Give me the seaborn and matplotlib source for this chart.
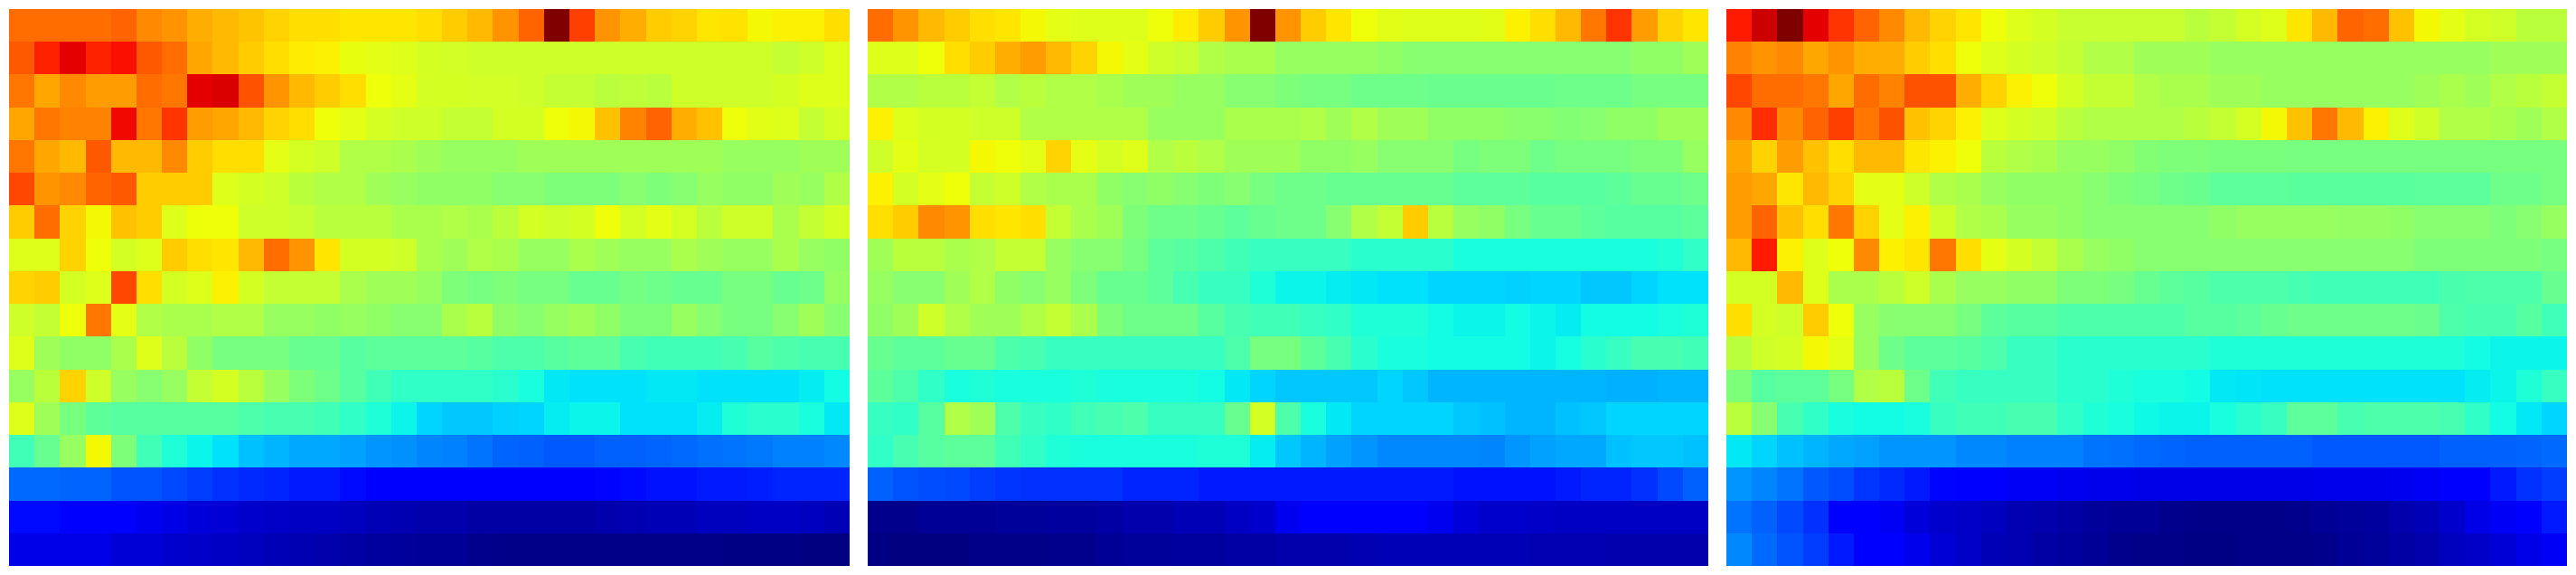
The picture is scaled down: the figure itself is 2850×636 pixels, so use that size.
import matplotlib
matplotlib.use("Agg")
import matplotlib.pyplot as plt
from matplotlib.colors import FuncNorm
import numpy as np
import seaborn as sns

panel_a = [
 [79,79,79,79,80,76,75,72,71,69.5,68,67,67,66,66,66,67,69,71,75,80,100,84,75,72,69,68,66,66.5,64,65,65,67],
 [81,87,91,87,89,81,79,73,71,69,67,65.5,65,62.5,62,61,60,59.5,59,59,59,59,59,59,59,59,59,59,59,59,58,59,61],
 [78,73,76,74,74,79,78,91,92,82,75,71,69,67,63,62,60,60,59.5,59.5,59,58,58,57,57.5,57,59,59,59,59,60,61,61],
 [73,78,77,77,90,78,85,74,73,71,68,67,63,62,60,59,59,58,58,60,60,63,64,70,77,80,72,70,63,61.5,61,58,60],
 [78,73,71,81,71,71,76,69,67,67,62,60,59,56,56,55,54,53,53,53,54,54,54,54,54,54,54,54,53,53,53,54,54],
 [83,75,76,80,81,69,69,69,61,60,59,57,56,56,54,53,52,52,52,51,51,50,50,50,51,50,51,53,52,52,54,53,56],
 [69,79,68,64,70,69,61,63,63,59,59,58.5,57,57,57,55,55,56,55,57,60,59,60,63,60,62,60,57,59,59,55,58,60],
 [61,61,68,63,60,61,69,67,66,71,79,75,66,60,60,59,55,54,56,55,53,53,55,54,53,53,55,54,53,53,55,53,52],
 [68,69,60,61,83,67,60,61,65,60,58,58,58,55,54,54,53,50,49,50,49,49,47,47,48.5,48,47,47,49,49,47,48,53],
 [59,58,63,78,62,56,55,55,56,56,53,53,52,53,52,51,51,55,57,52,51,53,54,52,50,50,53,51,49,49,51,54,51],
 [61,54,52,52,55,61,57,52,49,49,49,47,47,45,46,46,46,46,45,44,44,45,46,46,43,42,42,42,43,45,44,43,43],
 [53,57,68,59,53,51,53,58,60,57,53,50,48,45,42,40,40,40,40,39,37,33,32,32,32,33,33,32,32,32,32,34,36],
 [61,54,49,46,45,45,45,45,45,44,43,43,42,40,38,35,31,30,30,30.5,31,34,35,35,32,32,32,34,38,39,39,37,33],
 [42,47,53,64,50,42,38,35,32,29,28,27,27,26,25,24.5,23.5,23,22,20.5,20,19.5,19.5,20,20,20.5,21,21.5,22,22.5,23,23,24],
 [21,21,20.5,20.5,19,19,18,17,16,15.5,15,14,14,13,12,11.5,11.5,11,11,11,11,11,12,12.5,13,13.5,13.5,14,14,14.5,15,15,15],
 [13,13,12,11,11,10,9,8,7.5,7,6.5,6,6,5.5,5,4.5,4,4,3.5,3.5,3.5,3.5,3.5,4,4.5,5,5,5.5,5.5,6,6,5.5,5],
 [9,9,9,9,7.5,7.5,7,6.5,6,5.5,5,4.5,4,3.5,3,2.5,2,2,1.5,1,1,1,1,1,1,1,1,1,0.5,0.5,0.5,0,0],
]

panel_b = [
 [79,75,71,69,67,66,64,62,61,61,61,63,65.5,69,75,100,75,69,66,63,61.5,61,61,61,61.5,65,67,71,78,85,74,68,66],
 [61,61,63,67,69,72,74,71,68,64,62,59,58.5,56,55,55,53,53,53,53,52,51,51,51,51,51,51,51,51,51,52,52,54],
 [56,56,57,57,58,56,57,56,56,55,54,54,53,53,51,51,50,49,49,48,48,48,47.5,47.5,47.5,47.5,47.5,48,48,48,49,49,49],
 [65,61,60,60,59,59,56,56,56,56,56,53,53,53,55,55,55,56,54,56,54,54,52,52,52,51.5,51.5,50.5,51,52,52,54,54],
 [59,62,60,60,64,63,62,68,62,60,61,56,57,56,54,54,54,52,52,53,51,51,51,49,50,50,48,49,49,49,50,50,53],
 [65,60,62,63,58,59,56,55,55,52,51,52,51,50,51,49,48,48,47,47,47,47,47,46,46,46,45,45,45,46,47,47,48],
 [67,69,76,75,67,66,67,58,55,54,50,48,48,47,46,47,48,48,51,56,58,69,57,53,52,49,47,47,46,45,45,45,46],
 [54,57,57,55,56,58,58,53,51,51,49,46,45,44,42,41,41,41,41,39,39,39,39,37,37,37,37,37,37,37,37,38,40],
 [53,51,51,54,56,52,51,53,50,47,47,46,43,41,41,38,35,35,34,33,32,32,31,31,31,30.5,31,31,30,30,31,32,32],
 [52,54,59,56,54,54,56,58,55,50,48,48,48,45,43,42,42,41,40,38,38,38,36,35,35,36,35,34,36,36,36,37,38],
 [47,46,46,47,47,44,43,41,41,41,41,41,41,41,44,49,49,46,43,39,37,37,36,36,36,36,35,36.5,39,41,43,43,42],
 [46,44,40,37,38,37,37,37,38,37,37,37,37,36,33,31,30,30,30,30,31,30,28,28,28,28,28,28,28,27.5,27.5,28,28],
 [41,40,45,56,54,44,41,40,42,43,44,41,41,41,47,60,44,37,33,31,31,31,31,30,29,28,28,29,30,31,31,31,31],
 [40,43,45,46,46,42,40,38,37,37,37,37,37,38,38,34,30,28,26,25,24,24,24,24,23.5,25,26,27,27,29,30,30,29],
 [20,19,18.5,18,17,16.5,16,16,16,16,15,15,15,14,14,14,14,14,14,14,14,14,14,13.5,13.5,13.5,13.5,14,15,15,16,18,20],
 [1.5,1.5,2,2,2,2.5,2.5,3,3,3.5,4,4,5,5,6,7,10,11,11,11,11,11,10,8,7,7,6.5,6,6,6,6,6,6],
 [0.5,0,0,0,1,1,1,1.5,1.5,2,2.5,2.5,3,3,3.5,3.5,4,4,4,4.5,5,5,5,5,5,5,4.5,4.5,4.5,4,4,4,4],
]

panel_c = [
 [88,93,100,91,85,80,76,71,68,66,63,61,60,58.5,58.5,58.5,58.5,58.5,57,58,60,61,66,71,80,79,70,64,62,60,59,57,57],
 [77,75,76,73,75,72,72,69,67,63,61,60,59,58,56,56,54,54,54,53,53,53,53,53,53,53,53,53,53,53,54,54,54],
 [83,79,79,78,73,79,77,82,82,72,68,65,63,60,58,58,56,55,55,54,54,53,53,53,53,53,53,54,55,54,56,57,58],
 [76,86,76,80,84,78,82,70,68,65,61,60,59,57,56,56,56,56,57,58,60,64,70,78,71,65,61,59,56,56,55,54,56],
 [73,68,74,70,67,71,71,66,65,63,57,56,55,53,53,52,50.5,50,50,49.5,49.5,49.5,49,49,49,49,49,49,49,49,49,49,49],
 [74,73,66,71,68,62,62,59,56,55,53,52,52,52,51,50,49,48,47.5,46,46,46,45.5,45.5,45.5,45.5,45.5,46,46,46,48,48,49],
 [74,80,70,67,78,68,62,65,59,56,55,53,53,52,51,51,51,51,51,52,53,53,53,53,52.5,52.5,52,51,51,51,50,51,53],
 [71,88,65,61,63,76,65,66,78,67,62,60,58,55,53,52,51,51,51,51,51,51,51,51,51,51,51,50,50,50,50,50,49],
 [60,60,71,61,55,55,57,59,55,53,53,52,52,50,50,49,47,46,45,44,44,44,43,42,42,42,42,42,43.5,44,44,44,47],
 [67,60,59,69,63,53,51,51,51,49,46,45,45,44,44,44,44,44,45,45,46,47,48,48,48,48,48,47.5,44,43,43,45,42],
 [57,59,60,64,62,53,48,46,46,45,44,41,41,39,39,39,39,39,39,38,38,38,38,38,38,38,38,38,38,36,35,35,35],
 [50,45,46,46,49,56,57,48,42,41,41,41,41,39,39,38,37,37,36,33,32.5,32,32,32,32,32,32,32,32,34,35,38,41],
 [57,51,43,40,37,36,36,37,41,42,42,43,43,40,38,37,35.5,35,35,37,39,41,46,46,43,44,44,44,43,40,36,33,31],
 [33,31,29,28,27,26,25,25,25,24,24,23,23,23,22,21.5,21,20.5,20,20,20,20,20,19.5,19.5,19.5,19.5,19.5,20,20,20,20.5,21],
 [25,23.5,22,19.5,18.5,16.5,15.5,14,12.5,11,11,10.5,10.5,10,9.5,9.5,9,9,9,9,9,9,9,9.5,9.5,9.5,10,10.5,11,12,14,16,17],
 [22,20,18,16,12,11,10.5,8,7,6.5,5.5,4.5,4,3.5,2.5,2,2,1.5,1,1,1,1,1.5,2,2.5,3,4,5,7,9,10.5,12,14],
 [24,21,19,17,14,11,11,9.5,7.5,6.5,5,4.5,3.5,3,2,1.5,1,1,0.5,0.5,1,1,1,1.5,2,2.5,3.5,4,5.5,6.5,7.5,9,10.5],
]

# colour-scale anchors: how the values above sit on the jet scale
scale_in = [0, 11, 14, 20, 32, 37, 44, 50, 55, 59, 63, 65, 100]
scale_out = [0, 11, 15, 22, 34.5, 38, 44.5, 50.3, 55.5, 59.8, 63.7, 65.5, 100]
norm = FuncNorm((lambda v: np.interp(v, scale_in, scale_out),
                 lambda u: np.interp(u, scale_out, scale_in)),
                vmin=0, vmax=100)

panels = [panel_a, panel_b, panel_c]
left_px = [10, 960, 1910]
W, H = 2850, 636
fig = plt.figure(figsize=(W / 100, H / 100), dpi=100, facecolor="white")
for data, x0 in zip(panels, left_px):
    ax = fig.add_axes([x0 / W, 1 - 626 / H, 930 / W, 616 / H])
    sns.heatmap(np.array(data, dtype=float), ax=ax, cmap="jet", norm=norm,
                cbar=False, xticklabels=False, yticklabels=False, linewidths=0,
                rasterized=True)
    ax.collections[0].set_edgecolor("face")
    ax.axis("off")
fig.savefig("out.png", dpi=100, facecolor="white")
